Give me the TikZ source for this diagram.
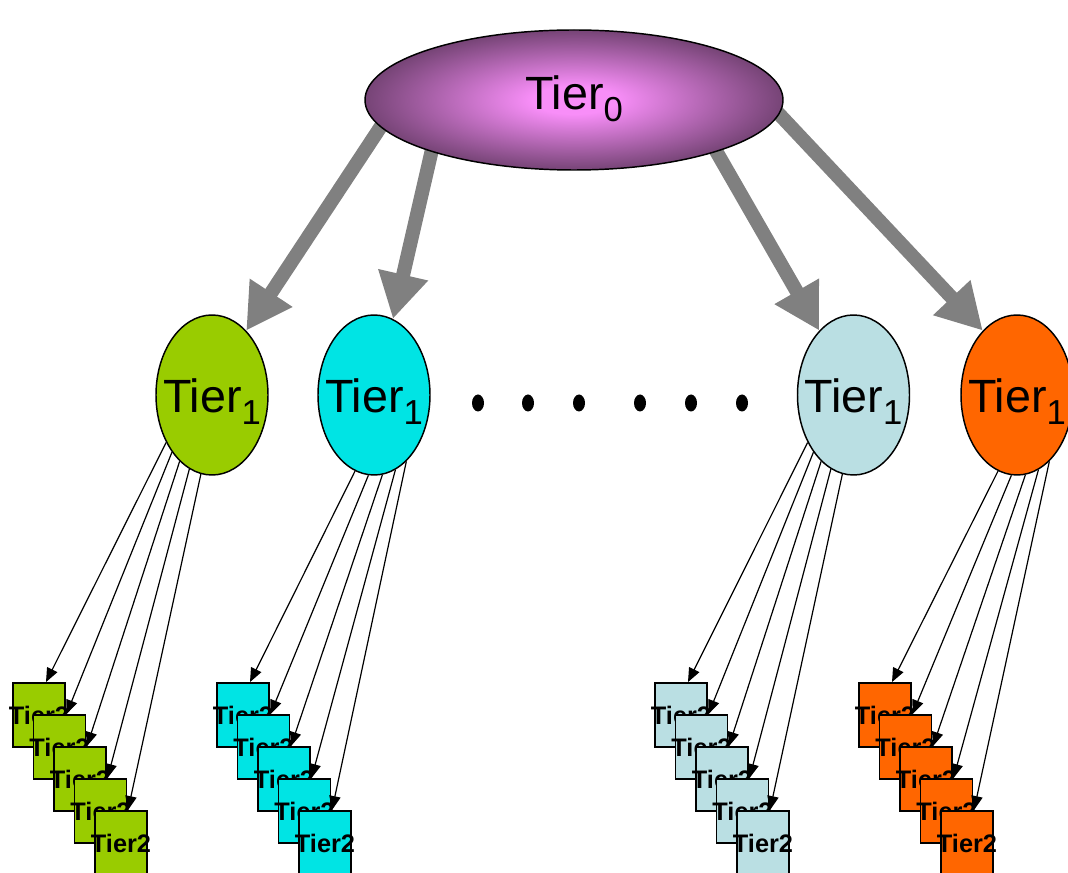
\documentclass[tikz,border=0pt]{standalone}
\usepackage{fontspec}
\setmainfont{Liberation Sans}
\usetikzlibrary{shapes.geometric,arrows.meta,backgrounds}

\definecolor{grn}{RGB}{153,204,0}
\definecolor{cyn}{RGB}{0,228,228}
\definecolor{pale}{RGB}{186,223,227}
\definecolor{orng}{RGB}{255,102,0}
\definecolor{pinkc}{RGB}{248,142,248}
\definecolor{plum}{RGB}{118,68,118}
\pgfdeclareradialshading{glow}{\pgfpoint{0bp}{0bp}}{color(0bp)=(pinkc); color(5bp)=(pinkc); color(25bp)=(plum); color(50bp)=(plum)}

\newcommand{\tsub}[1]{\raisebox{-9pt}{\fontsize{26}{26}\selectfont #1}}

\begin{document}
\begin{tikzpicture}[x=0.75pt,y=-0.75pt,
    rootnode/.style={ellipse, draw, line width=1.1pt, shading=glow,
      minimum width=313.5pt, minimum height=105pt, inner sep=0pt,
      text height=24pt, text depth=10pt, font=\fontsize{35}{35}\selectfont},
    midnode/.style={ellipse, draw, line width=1.1pt,
      minimum width=84pt, minimum height=120pt, inner sep=0pt,
      text height=30pt, text depth=3pt, font=\fontsize{35}{35}\selectfont},
    leaf/.style={rectangle, draw, line width=1.4pt,
      minimum width=39pt, minimum height=48pt, inner sep=0pt,
      font=\fontsize{19}{19}\selectfont\bfseries},
    bigarrow/.style={draw=gray, line width=10.5pt, shorten <=-10pt,
      -{Triangle[length=34pt,width=36pt]}},
    smallarrow/.style={draw, line width=0.9pt,
      -{Triangle[length=10.5pt,width=8.5pt]}}]
  \useasboundingbox (0,0) rectangle (1068,873);

  % top and middle tier
  \node[rootnode] (T0) at (574,100) {Tier\tsub{0}};
  \node[midnode, fill=grn]  (A) at (212,395)   {\makebox[0pt]{Tier\tsub{1}}};
  \node[midnode, fill=cyn]  (B) at (374,395)   {\makebox[0pt]{Tier\tsub{1}}};
  \node[midnode, fill=pale] (C) at (853.5,395) {\makebox[0pt]{Tier\tsub{1}}};
  \node[midnode, fill=orng] (D) at (1017,395)  {\makebox[0pt]{Tier\tsub{1}}};

  \foreach \x in {478,528,579,640,691,742}
    \fill (\x,403) ellipse [x radius=6, y radius=8.5];

  \begin{scope}[on background layer]
    \draw[bigarrow] (T0.188) -- (A.62);
    \draw[bigarrow] (T0.200) -- (B.76);
    \draw[bigarrow] (T0.340) -- (C.118);
    \draw[bigarrow] (T0.356) -- (D.118);
  \end{scope}

  % bottom tier stacks
  \foreach \n/\c/\x/\a/\s in {A/grn/39/226/9, B/cyn/243/256/10, C/pale/681/226/9, D/orng/885/256/10} {
    \foreach \k in {1,...,5}
      \node[leaf, fill=\c] (\n\k) at ({\x+20.5*(\k-1)},{715+32*(\k-1)}) {\makebox[0pt]{Tier2}};
    \foreach \k in {1,...,5} {
      \pgfmathtruncatemacro\ang{\a+\s*(\k-1)}
      \draw[smallarrow] (\n.\ang) -- (\n\k.78);
    }
  }
\end{tikzpicture}
\end{document}
